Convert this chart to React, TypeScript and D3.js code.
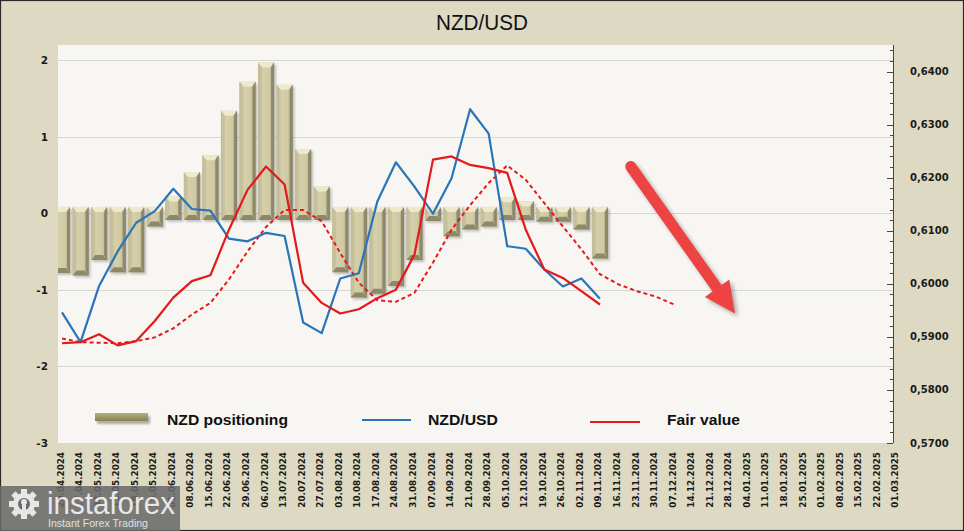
import React from "react";
import * as d3 from "d3";

const dateLabels = [
  "20.04.2024","27.04.2024","04.05.2024","11.05.2024","18.05.2024","25.05.2024","01.06.2024",
  "08.06.2024","15.06.2024","22.06.2024","29.06.2024","06.07.2024","13.07.2024","20.07.2024",
  "27.07.2024","03.08.2024","10.08.2024","17.08.2024","24.08.2024","31.08.2024","07.09.2024",
  "14.09.2024","21.09.2024","28.09.2024","05.10.2024","12.10.2024","19.10.2024","26.10.2024",
  "02.11.2024","09.11.2024","16.11.2024","23.11.2024","30.11.2024","07.12.2024","14.12.2024",
  "21.12.2024","28.12.2024","04.01.2025","11.01.2025","18.01.2025","25.01.2025","01.02.2025",
  "08.02.2025","15.02.2025","22.02.2025","01.03.2025"
];

const nzdPositioning = [
  -0.78,-0.81,-0.61,-0.77,-0.77,-0.17,0.22,0.54,0.76,1.34,1.72,1.97,1.68,0.84,0.35,
  -0.77,-1.10,-1.05,-0.95,-0.61,-0.10,-0.30,-0.21,-0.17,0.21,0.16,-0.11,-0.11,-0.21,-0.59
];

const nzdUsd = [
  0.5946,0.5890,0.5996,0.6061,0.6115,0.6137,0.6179,0.6141,0.6138,0.6085,0.6080,0.6096,0.6090,0.5927,0.5907,
  0.6010,0.6020,0.6155,0.6229,0.6183,0.6132,0.6199,0.6329,0.6283,0.6071,0.6066,0.6027,0.5995,0.6010,0.5972
];

const fairValue = [
  0.5888,0.5890,0.5905,0.5884,0.5892,0.5930,0.5974,0.6005,0.6016,0.6102,0.6177,0.6221,0.6187,0.6002,0.5964,
  0.5944,0.5952,0.5973,0.5989,0.6055,0.6234,0.6240,0.6224,0.6218,0.6209,0.6102,0.6027,0.6011,0.5986,0.5961
];

const fairValueTrend = [
  0.5897,0.5890,0.5889,0.5888,0.5892,0.5899,0.5916,0.5942,0.5964,0.6008,0.6061,0.6107,0.6139,0.6139,0.6118,
  0.6058,0.6002,0.5969,0.5966,0.5983,0.6040,0.6102,0.6148,0.6190,0.6223,0.6196,0.6152,0.6108,0.6065,0.6018,
  0.5999,0.5986,0.5976,0.5961
];

const leftTicks = [-3, -2, -1, 0, 1, 2];
const rightTicks = [0.57, 0.58, 0.59, 0.6, 0.61, 0.62, 0.63, 0.64];

const legendItems = ["NZD positioning", "NZD/USD", "Fair value"];

// arrow annotation in data coordinates (category index, right-axis value)
const arrowFrom = { i: 30.66, v: 0.6221 };
const arrowTo = { i: 36.28, v: 0.5944 };

const W = 964, H = 531;
const plot = { left: 58, right: 893, top: 45, bottom: 443 };

export default function App() {
  const x = d3.scaleLinear().domain([0, dateLabels.length - 1]).range([62, 62 + 18.55 * (dateLabels.length - 1)]);
  const yL = d3.scaleLinear().domain([-3, 2.2]).range([plot.bottom, plot.top]);
  const yR = d3.scaleLinear().domain([0.57, 0.645]).range([plot.bottom, plot.top]);

  const line = d3.line<number>().x((_, i) => x(i)).y((d) => yR(d));
  const minorTicks = d3.range(0.57, 0.6451, 0.002);

  const bw = 16;
  const bev = 6.5;
  const y0 = yL(0);

  // arrow geometry
  const ax1 = x(arrowFrom.i), ay1 = yR(arrowFrom.v);
  const ax2 = x(arrowTo.i), ay2 = yR(arrowTo.v);
  const len = Math.hypot(ax2 - ax1, ay2 - ay1);
  const ux = (ax2 - ax1) / len, uy = (ay2 - ay1) / len;
  const nx = -uy, ny = ux;
  const headL = 31, headW = 15;
  const bx = ax2 - ux * headL, by = ay2 - uy * headL;
  const sx = ax2 - ux * (headL - 4), sy = ay2 - uy * (headL - 4);

  const axisFont = "'DejaVu Sans', Verdana, sans-serif";

  return (
    <svg width={W} height={H} style={{ position: "absolute", left: 0, top: 0 }} xmlns="http://www.w3.org/2000/svg">
      <defs>
        <linearGradient id="barGrad" x1="0" x2="1" y1="0" y2="0">
          <stop offset="0%" stopColor="#B8B28E" />
          <stop offset="18%" stopColor="#D6D0AC" />
          <stop offset="70%" stopColor="#D0CAA4" />
          <stop offset="88%" stopColor="#B6B08C" />
          <stop offset="100%" stopColor="#8F8A6C" />
        </linearGradient>
        <linearGradient id="legGrad" x1="0" x2="0" y1="0" y2="1">
          <stop offset="0%" stopColor="#B4AF80" />
          <stop offset="50%" stopColor="#9E9966" />
          <stop offset="100%" stopColor="#87834F" />
        </linearGradient>
        <filter id="blur1" x="-20%" y="-20%" width="140%" height="140%">
          <feGaussianBlur stdDeviation="1.2" />
        </filter>
        <filter id="blur2" x="-20%" y="-20%" width="140%" height="140%">
          <feGaussianBlur stdDeviation="2" />
        </filter>
        <clipPath id="plotClip">
          <rect x={plot.left} y={plot.top} width={plot.right - plot.left} height={plot.bottom - plot.top} />
        </clipPath>
      </defs>

      <rect x={0} y={0} width={W} height={H} fill="#DDD9C3" />
      <rect x={0.5} y={0.5} width={W - 1} height={H - 1} fill="none" stroke="#2a2a2a" strokeWidth={1.2} />

      <text x={W / 2} y={30} textAnchor="middle" fontFamily="'Liberation Sans', Arial, sans-serif" fontSize={22}
        textLength={92} lengthAdjust="spacingAndGlyphs" fill="#111">NZD/USD</text>

      <rect x={plot.left} y={plot.top} width={plot.right - plot.left} height={plot.bottom - plot.top} fill="#F7F6F2" />

      {leftTicks.map((t) => (
        <line key={"g" + t} x1={plot.left} x2={plot.right} y1={Math.round(yL(t)) + 0.5} y2={Math.round(yL(t)) + 0.5}
          stroke="#D6D6D2" strokeWidth={1} />
      ))}

      <g clipPath="url(#plotClip)">
        {nzdPositioning.map((v, i) => {
          const cx = x(i);
          const xl = cx - bw / 2;
          const top = v >= 0 ? yL(v) : y0 - bev;
          const bot = v >= 0 ? y0 + bev : yL(v);
          const h = bot - top;
          return (
            <g key={"b" + i}>
              <rect x={xl + 2} y={top + 2} width={bw} height={h} fill="rgba(0,0,0,0.22)" filter="url(#blur1)" />
              <rect x={xl} y={top} width={bw} height={h} fill="url(#barGrad)" />
              <polygon points={`${xl},${top} ${xl + bw},${top} ${xl + bw - 4},${top + 5} ${xl + 4},${top + 5}`} fill="#EEE9CD" />
              <polygon points={`${xl},${bot} ${xl + bw},${bot} ${xl + bw - 4},${bot - 5} ${xl + 4},${bot - 5}`} fill="#8D8867" />
              <polygon points={`${xl},${top} ${xl + 4},${top + 5} ${xl + 4},${bot - 5} ${xl},${bot}`} fill="#C4BE98" opacity={0.8} />
              <polygon points={`${xl + bw},${top} ${xl + bw - 3},${top + 5} ${xl + bw - 3},${bot - 5} ${xl + bw},${bot}`} fill="#8A8566" opacity={0.9} />
            </g>
          );
        })}

        <path d={line(fairValueTrend) || ""} fill="none" stroke="#E4191B" strokeWidth={2} strokeDasharray="4 3" />
        <path d={line(nzdUsd) || ""} fill="none" stroke="#2A74B8" strokeWidth={2.2} strokeLinejoin="round" />
        <path d={line(fairValue) || ""} fill="none" stroke="#E4191B" strokeWidth={2.2} strokeLinejoin="round" />
      </g>

      {/* arrow annotation */}
      <g>
        <g transform="translate(3,3)" opacity={0.3} filter="url(#blur2)">
          <line x1={ax1} y1={ay1} x2={sx} y2={sy} stroke="#000" strokeWidth={11} strokeLinecap="round" />
          <polygon points={`${ax2},${ay2} ${bx + nx * headW},${by + ny * headW} ${bx - nx * headW},${by - ny * headW}`} fill="#000" />
        </g>
        <line x1={ax1} y1={ay1} x2={sx} y2={sy} stroke="#EE4343" strokeWidth={11} strokeLinecap="round" />
        <polygon points={`${ax2},${ay2} ${bx + nx * headW},${by + ny * headW} ${bx - nx * headW},${by - ny * headW}`} fill="#EE4343" />
      </g>

      {/* left axis labels */}
      {leftTicks.map((t) => (
        <text key={"l" + t} x={48} y={yL(t)} dy="0.35em" textAnchor="end" fontFamily={axisFont} fontWeight="bold"
          fontSize={10.5} fill="#1a1a1a">{t}</text>
      ))}

      {/* right axis */}
      <line x1={plot.right + 0.5} x2={plot.right + 0.5} y1={plot.top} y2={plot.bottom} stroke="#5a3e38" strokeWidth={1} />
      {minorTicks.map((t, k) => (
        <line key={"m" + k} x1={plot.right - 3} x2={plot.right} y1={Math.round(yR(t)) + 0.5} y2={Math.round(yR(t)) + 0.5}
          stroke="#5a3e38" strokeWidth={1} />
      ))}
      {rightTicks.map((t) => (
        <g key={"r" + t}>
          <line x1={plot.right - 6} x2={plot.right} y1={Math.round(yR(t)) + 0.5} y2={Math.round(yR(t)) + 0.5} stroke="#5a3e38" strokeWidth={1} />
          <text x={910} y={yR(t)} dy="0.35em" fontFamily={axisFont} fontWeight="bold" fontSize={10} fill="#1a1a1a">
            {d3.format(".4f")(t).replace(".", ",")}
          </text>
        </g>
      ))}

      {/* x labels */}
      {dateLabels.map((d, i) => (
        <text key={"x" + i} transform={`translate(${x(i) + 1.5},452) rotate(-90)`} textAnchor="end"
          fontFamily={axisFont} fontWeight="bold" fontSize={8.8} fill="#1a1a1a">{d}</text>
      ))}

      {/* legend */}
      <g>
        <rect x={97} y={416} width={53} height={8} fill="rgba(0,0,0,0.3)" filter="url(#blur1)" />
        <rect x={95} y={413} width={53} height={8} fill="url(#legGrad)" />
        <text x={167} y={425} fontFamily="'Liberation Sans', Arial, sans-serif" fontWeight="bold" fontSize={14.5}
          textLength={121} lengthAdjust="spacingAndGlyphs" fill="#111">{legendItems[0]}</text>
        <line x1={362} x2={411} y1={420} y2={420} stroke="#2A74B8" strokeWidth={2} />
        <text x={428} y={425} fontFamily="'Liberation Sans', Arial, sans-serif" fontWeight="bold" fontSize={14.5}
          textLength={70} lengthAdjust="spacingAndGlyphs" fill="#111">{legendItems[1]}</text>
        <line x1={590} x2={640} y1={422} y2={422} stroke="#E4191B" strokeWidth={2} />
        <text x={667} y={425} fontFamily="'Liberation Sans', Arial, sans-serif" fontWeight="bold" fontSize={14.5}
          textLength={73} lengthAdjust="spacingAndGlyphs" fill="#111">{legendItems[2]}</text>
      </g>

      {/* watermark logo */}
      <g>
        <rect x={0} y={486} width={180} height={45} fill="rgba(105,105,105,0.86)" />
        <g transform="translate(24,504)" fill="#E6E6E6">
          {d3.range(8).map((k) => (
            <rect key={"t" + k} x={-3} y={-15} width={6} height={7} transform={`rotate(${k * 45})`} />
          ))}
          <circle r={11} />
          <circle r={6} fill="rgba(105,105,105,1)" />
          <rect x={-2} y={-2} width={4} height={14} fill="#E6E6E6" />
          <circle cx={0} cy={-2} r={3} fill="#E6E6E6" />
        </g>
        <text x={47} y={514} fontFamily="'Liberation Sans', Arial, sans-serif" fontSize={31} fill="#E8E8E8"
          textLength={128} lengthAdjust="spacingAndGlyphs">instaforex</text>
        <text x={48} y={527} fontFamily="'Liberation Sans', Arial, sans-serif" fontSize={10.5} fill="#E0E0E0"
          textLength={100} lengthAdjust="spacingAndGlyphs">Instant Forex Trading</text>
      </g>
    </svg>
  );
}
